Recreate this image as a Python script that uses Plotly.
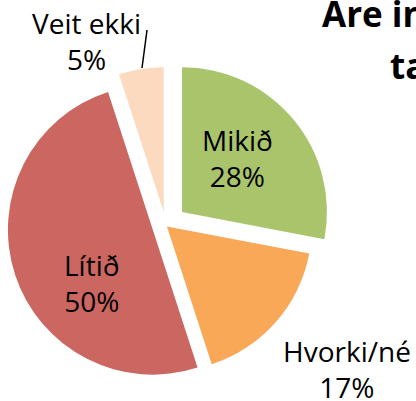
import plotly.graph_objects as go

# ---- data ----
labels = ["Mikið", "Hvorki/né", "Lítið", "Veit ekki"]
values = [28, 17, 50, 5]
pct_text = ["28%", "17%", "50%", "5%"]
title_lines = ["Are in", "ta"]

# ---- style ----
colors = ["#AAC46C", "#F9A857", "#CC6661", "#FBDABF"]
pulls = [0.145, 0.01, 0.095, 0.094]

W, H = 416, 401
FONT = "Open Sans"

fig = go.Figure(go.Pie(
    labels=labels,
    values=values,
    sort=False,
    direction="clockwise",
    rotation=0,
    pull=pulls,
    marker=dict(colors=colors, line=dict(width=0)),
    textinfo="none",
    hoverinfo="label+percent",
    showlegend=False,
    domain=dict(x=[0, 0.7975], y=[0.0237, 0.8516]),
))

def px(x):
    return x / W

def py(y):
    return 1 - y / H

# label positions (pixel centres of the text blocks)
label_pos = {
    "Mikið": (237, 158),
    "Hvorki/né": (347, 369),
    "Lítið": (92, 283),
    "Veit ekki": (86, 41),
}

annotations = []
for lab, pt in zip(labels, pct_text):
    cx, cy = label_pos[lab]
    annotations.append(dict(
        x=px(cx), y=py(cy), xref="paper", yref="paper",
        text=f"{lab}<br>{pt}", showarrow=False,
        xanchor="center", yanchor="middle", align="center",
        font=dict(family=FONT, size=28, color="#000000"),
    ))

# title (clipped by the right edge in the reference)
annotations.append(dict(
    x=px(320), y=py(39), xref="paper", yref="paper",
    text=f"<b>{title_lines[0]}</b>", showarrow=False,
    xanchor="left", yanchor="bottom",
    font=dict(family=FONT, size=35, color="#000000"),
))
annotations.append(dict(
    x=px(388), y=py(91), xref="paper", yref="paper",
    text=f"<b>{title_lines[1]}</b>", showarrow=False,
    xanchor="left", yanchor="bottom",
    font=dict(family=FONT, size=35, color="#000000"),
))

fig.update_layout(
    width=W, height=H,
    margin=dict(l=0, r=0, t=0, b=0),
    paper_bgcolor="#FFFFFF",
    plot_bgcolor="#FFFFFF",
    annotations=annotations,
    shapes=[dict(type="line", xref="paper", yref="paper",
                 x0=px(147), y0=py(30), x1=px(142), y1=py(68),
                 line=dict(color="#000000", width=1.5))],
)

fig.write_html("out.html", config={"displayModeBar": False},
               post_script="document.body.style.margin='0';")
